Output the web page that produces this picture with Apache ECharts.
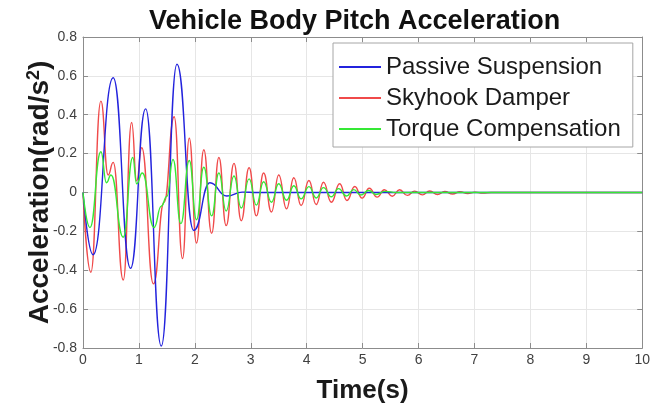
<!DOCTYPE html>
<html>
<head>
<meta charset="utf-8">
<script src="https://cdn.jsdelivr.net/npm/echarts@6/dist/echarts.min.js"></script>
<style>
html,body{margin:0;padding:0;background:#fff;}
#chart{width:653px;height:410px;}
</style>
</head>
<body>
<div id="chart"></div>
<script>
// ---- data (time in s, acceleration in rad/s^2) ----
var seriesNames = ['Passive Suspension', 'Skyhook Damper', 'Torque Compensation'];
var xTickLabels = ['0','1','2','3','4','5','6','7','8','9','10'];
var yTickLabels = ['-0.8','-0.6','-0.4','-0.2','0','0.2','0.4','0.6','0.8'];

var tPassive = [0, 0.18, 0.54, 0.85, 1.12, 1.40, 1.68, 1.98, 2.27, 2.57, 2.85, 3.1, 10];
var vPassive = [0, -0.32, 0.59, -0.39, 0.43, -0.79, 0.66, -0.195, 0.05, -0.018, 0.002, 0, 0];

var tSkyhook = [0, 0.14, 0.32, 0.45, 0.54, 0.72, 0.87, 0.96, 1.05, 1.26, 1.45, 1.63, 1.78, 1.90, 2.03, 2.16, 2.30, 2.43, 2.56, 2.70, 2.83, 2.97, 3.10, 3.23, 3.37, 3.50, 3.64, 3.77, 3.90, 4.04, 4.17, 4.30, 4.44, 4.59, 4.72, 4.86, 4.99, 5.12, 5.26, 5.39, 5.53, 5.66, 5.80, 5.93, 6.07, 6.20, 6.34, 6.47, 6.61, 6.74, 6.88, 7.01, 7.15, 7.3, 10];
var vSkyhook = [0, -0.41, 0.47, 0.09, 0.155, -0.45, 0.36, 0.06, 0.23, -0.47, -0.05, 0.39, -0.34, 0.28, -0.26, 0.22, -0.21, 0.18, -0.17, 0.15, -0.145, 0.127, -0.12, 0.10, -0.10, 0.09, -0.084, 0.076, -0.067, 0.062, -0.062, 0.053, -0.05, 0.045, -0.041, 0.031, -0.029, 0.022, -0.024, 0.014, -0.019, 0.014, -0.015, 0.007, -0.012, 0.008, -0.01, 0.005, -0.008, 0.004, -0.005, 0.002, -0.003, 0, 0];

var tTorque = [0, 0.125, 0.32, 0.42, 0.50, 0.72, 0.89, 0.96, 1.06, 1.27, 1.40, 1.50, 1.61, 1.75, 1.90, 2.03, 2.16, 2.30, 2.43, 2.56, 2.70, 2.83, 2.97, 3.10, 3.23, 3.37, 3.50, 3.64, 3.77, 3.90, 4.04, 4.17, 4.30, 4.44, 4.57, 4.71, 4.84, 4.97, 5.11, 5.24, 5.40, 5.6, 10];
var vTorque = [0, -0.18, 0.21, 0.05, 0.09, -0.23, 0.18, 0.045, 0.10, -0.18, -0.07, -0.02, 0.17, -0.16, 0.165, -0.14, 0.13, -0.12, 0.10, -0.095, 0.085, -0.08, 0.07, -0.065, 0.055, -0.05, 0.045, -0.04, 0.035, -0.033, 0.03, -0.028, 0.025, -0.022, 0.02, -0.018, 0.015, -0.013, 0.01, -0.01, 0.006, 0, 0];

function zip(t, v) { return t.map(function (x, i) { return [x, v[i]]; }); }

var xMin = 0, xMax = 10, xStep = 1;
var yMin = -0.8, yMax = 0.8, yStep = 0.2;

var axisGray = '#8c8c8c';
var labelColor = '#404040';

function baseX(pos, showLabel) {
  return {
    type: 'value', min: xMin, max: xMax, interval: xStep, position: pos,
    axisLine: { show: true, onZero: false, lineStyle: { color: axisGray, width: 1 } },
    axisTick: { show: true, inside: true, length: 5, lineStyle: { color: axisGray } },
    axisLabel: {
      show: showLabel, color: labelColor, fontSize: 14, margin: 5, fontFamily: 'Liberation Sans',
      formatter: function (v) { return xTickLabels[Math.round((v - xMin) / xStep)]; }
    },
    splitLine: { show: showLabel, lineStyle: { color: '#e6e6e6', width: 1 } }
  };
}
function baseY(pos, showLabel) {
  return {
    type: 'value', min: yMin, max: yMax, interval: yStep, position: pos,
    axisLine: { show: true, onZero: false, lineStyle: { color: axisGray, width: 1 } },
    axisTick: { show: true, inside: true, length: 5, lineStyle: { color: axisGray } },
    axisLabel: {
      show: showLabel, color: labelColor, fontSize: 14, margin: 6, fontFamily: 'Liberation Sans',
      formatter: function (v) { return yTickLabels[Math.round((v - yMin) / yStep)]; }
    },
    splitLine: { show: showLabel, lineStyle: { color: '#e6e6e6', width: 1 } }
  };
}

var xBottom = baseX('bottom', true);
xBottom.name = 'Time(s)';
xBottom.nameLocation = 'middle';
xBottom.nameGap = 30;
xBottom.nameMoveOverlap = false;
xBottom.nameTextStyle = { fontSize: 26, fontWeight: 'bold', color: '#1a1a1a', fontFamily: 'Liberation Sans' };

var yLeft = baseY('left', true);
yLeft.name = 'Acceleration(rad/s{sup|2})';
yLeft.nameLocation = 'middle';
yLeft.nameRotate = 90;
yLeft.nameGap = 27;
yLeft.nameMoveOverlap = false;
yLeft.nameTextStyle = {
  fontSize: 28, fontWeight: 'bold', color: '#1a1a1a', fontFamily: 'Liberation Sans',
  rich: { sup: { fontSize: 18, fontWeight: 'bold', color: '#1a1a1a', fontFamily: 'Liberation Sans', padding: [0, 0, 13, 0] } }
};

var colors = ['#2323dd', '#f04a4a', '#35e835'];

var chart = echarts.init(document.getElementById('chart'), null, { renderer: 'canvas' });
chart.setOption({
  animation: false,
  backgroundColor: '#ffffff',
  title: {
    text: 'Vehicle Body Pitch Acceleration',
    left: 144, top: 3,
    textStyle: { fontSize: 27, fontWeight: 'bold', color: '#111', fontFamily: 'Liberation Sans' }
  },
  grid: { left: 83, right: 10, top: 37, bottom: 62, containLabel: false },
  legend: {
    orient: 'vertical',
    left: 333, top: 43,
    itemStyle: { opacity: 0 },
    backgroundColor: '#ffffff',
    borderColor: '#a6a6a6', borderWidth: 1, borderRadius: 0,
    padding: [12, 12, 6, 5],
    itemWidth: 42, itemHeight: 12, itemGap: 7,
    textStyle: { fontSize: 24, color: '#1a1a1a', fontFamily: 'Liberation Sans', lineHeight: 24 },
    data: seriesNames
  },
  xAxis: [xBottom, baseX('top', false)],
  yAxis: [yLeft, baseY('right', false)],
  series: [
    { name: seriesNames[0], type: 'line', data: zip(tPassive, vPassive), smooth: 0.5, smoothMonotone: 'x', symbol: 'none', lineStyle: { color: colors[0], width: 1.4 }, itemStyle: { color: colors[0] }, z: 3 },
    { name: seriesNames[1], type: 'line', data: zip(tSkyhook, vSkyhook), smooth: 0.5, smoothMonotone: 'x', symbol: 'none', lineStyle: { color: colors[1], width: 1.4 }, itemStyle: { color: colors[1] }, z: 2 },
    { name: seriesNames[2], type: 'line', data: zip(tTorque, vTorque), smooth: 0.5, smoothMonotone: 'x', symbol: 'none', lineStyle: { color: colors[2], width: 1.4 }, itemStyle: { color: colors[2] }, z: 4 }
  ]
});
</script>
</body>
</html>
